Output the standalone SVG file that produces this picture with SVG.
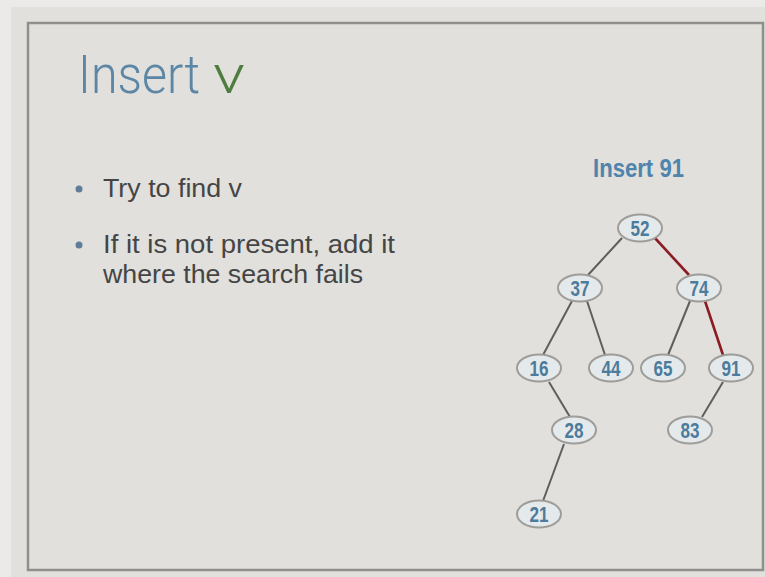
<svg xmlns="http://www.w3.org/2000/svg" width="765" height="577" viewBox="0 0 765 577">
  <style>
    .title { font-family: Roboto, "Liberation Sans", sans-serif; font-weight: 300; font-size: 53px; }
    .bullet-text { font-family: "Liberation Sans", Arial, sans-serif; font-size: 26px; fill: #454545; }
    .bullet { fill: #5f7d99; }
    .caption { font-family: "Liberation Sans", Arial, sans-serif; font-weight: bold; font-size: 26px; fill: #4f84ad; }
    .node ellipse { fill: #e4eaec; stroke: #9e9d99; stroke-width: 2; }
    .node text { font-family: "Liberation Sans", Arial, sans-serif; font-weight: bold; font-size: 22px; fill: #4d7b9c; text-anchor: middle; }
    .edge { stroke: #5e5e5e; stroke-width: 2; fill: none; }
    .edge.path { stroke: #8c1c24; stroke-width: 2.6; }
  </style>

  <!-- page and slide frame -->
  <rect x="0" y="0" width="765" height="577" fill="#ebeae8"/>
  <rect x="11" y="7" width="754" height="570" fill="#e1e0dc"/>
  <rect x="28" y="23" width="735" height="547" fill="none" stroke="#8f8f8d" stroke-width="2.5"/>

  <!-- title -->
  <text class="title" x="78" y="93" fill="#5b86a6" textLength="122" lengthAdjust="spacingAndGlyphs">Insert</text>
  <text class="title" x="213" y="93" fill="#4f7d3f" textLength="32" lengthAdjust="spacingAndGlyphs">v</text>

  <!-- bullet list -->
  <circle class="bullet" cx="79" cy="189" r="3.5"/>
  <text class="bullet-text" x="103" y="197" textLength="139" lengthAdjust="spacingAndGlyphs">Try to find v</text>
  <circle class="bullet" cx="79" cy="245" r="3.5"/>
  <text class="bullet-text" x="103" y="253" textLength="292" lengthAdjust="spacingAndGlyphs">If it is not present, add it</text>
  <text class="bullet-text" x="103" y="283" textLength="260" lengthAdjust="spacingAndGlyphs">where the search fails</text>

  <!-- tree caption -->
  <text class="caption" x="593" y="177" textLength="91" lengthAdjust="spacingAndGlyphs">Insert 91</text>

  <!-- connectors -->
  <g id="edges">
    <line class="edge" x1="622" y1="238" x2="588" y2="275"/>
    <line class="edge path" x1="654" y1="237" x2="689" y2="275"/>
    <line class="edge" x1="572" y1="301" x2="543" y2="355"/>
    <line class="edge" x1="587" y1="301" x2="605" y2="355"/>
    <line class="edge" x1="690" y1="301" x2="668" y2="355"/>
    <line class="edge path" x1="705" y1="301" x2="723" y2="355"/>
    <line class="edge" x1="549" y1="382" x2="570" y2="417"/>
    <line class="edge" x1="723" y1="382" x2="702" y2="417"/>
    <line class="edge" x1="564" y1="444" x2="543" y2="501"/>
  </g>

  <!-- nodes -->
  <g id="n52" class="node"><ellipse cx="640" cy="228" rx="22" ry="13.5"/><text x="640" y="236" textLength="19" lengthAdjust="spacingAndGlyphs">52</text></g>
  <g id="n37" class="node"><ellipse cx="580" cy="288" rx="22" ry="13.5"/><text x="580" y="296" textLength="19" lengthAdjust="spacingAndGlyphs">37</text></g>
  <g id="n74" class="node"><ellipse cx="699" cy="288" rx="22" ry="13.5"/><text x="699" y="296" textLength="19" lengthAdjust="spacingAndGlyphs">74</text></g>
  <g id="n16" class="node"><ellipse cx="539" cy="368" rx="22" ry="13.5"/><text x="539" y="376" textLength="19" lengthAdjust="spacingAndGlyphs">16</text></g>
  <g id="n44" class="node"><ellipse cx="611" cy="368" rx="22" ry="13.5"/><text x="611" y="376" textLength="19" lengthAdjust="spacingAndGlyphs">44</text></g>
  <g id="n65" class="node"><ellipse cx="663" cy="368" rx="22" ry="13.5"/><text x="663" y="376" textLength="19" lengthAdjust="spacingAndGlyphs">65</text></g>
  <g id="n91" class="node"><ellipse cx="731" cy="368" rx="22" ry="13.5"/><text x="731" y="376" textLength="19" lengthAdjust="spacingAndGlyphs">91</text></g>
  <g id="n28" class="node"><ellipse cx="574" cy="430" rx="22" ry="13.5"/><text x="574" y="438" textLength="19" lengthAdjust="spacingAndGlyphs">28</text></g>
  <g id="n83" class="node"><ellipse cx="690" cy="430" rx="22" ry="13.5"/><text x="690" y="438" textLength="19" lengthAdjust="spacingAndGlyphs">83</text></g>
  <g id="n21" class="node"><ellipse cx="539" cy="514" rx="22" ry="13.5"/><text x="539" y="522" textLength="19" lengthAdjust="spacingAndGlyphs">21</text></g>
</svg>
